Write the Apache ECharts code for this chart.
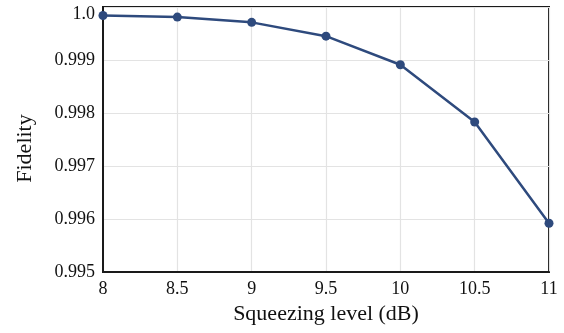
<!DOCTYPE html>
<html><head><meta charset="utf-8">
<script src="https://cdn.jsdelivr.net/npm/echarts@6/dist/echarts.min.js"></script>
<style>html,body{margin:0;padding:0;background:#fff}#c{width:564px;height:333px}</style>
</head><body><div id="c"></div>
<script>
const squeezing = [8, 8.5, 9, 9.5, 10, 10.5, 11];
const fidelity = [0.99984, 0.99981, 0.99971, 0.99945, 0.99891, 0.99783, 0.99592];
const xTicks = [8, 8.5, 9, 9.5, 10, 10.5, 11];
const yTicks = [0.995, 0.996, 0.997, 0.998, 0.999, 1.0];

const font = '"Liberation Serif", "Times New Roman", serif';
const chart = echarts.init(document.getElementById('c'));
chart.setOption({
  animation: false,
  grid: { left: 103, right: 15, top: 7, bottom: 61, show: true, borderColor: '#1a1a1a', borderWidth: 2, backgroundColor: 'transparent' },
  xAxis: {
    type: 'value', min: xTicks[0], max: xTicks[xTicks.length - 1], interval: 0.5,
    name: 'Squeezing level (dB)', nameLocation: 'middle', nameGap: 29,
    nameTextStyle: { fontFamily: font, fontSize: 22, color: '#111' },
    axisLine: { show: true, lineStyle: { color: '#1a1a1a', width: 2 } },
    axisTick: { show: false },
    axisLabel: { fontFamily: font, fontSize: 18, color: '#111', margin: 8 },
    splitLine: { show: true, lineStyle: { color: '#e3e3e3', width: 1.2 } }
  },
  yAxis: {
    type: 'value', min: yTicks[0], max: yTicks[yTicks.length - 1], interval: 0.001,
    name: 'Fidelity', nameLocation: 'middle', nameGap: 67,
    nameTextStyle: { fontFamily: font, fontSize: 22, color: '#111', padding: [0, 18, 0, 0] },
    axisLine: { show: true, lineStyle: { color: '#1a1a1a', width: 2 } },
    axisTick: { show: false },
    axisLabel: {
      fontFamily: font, fontSize: 18, color: '#111', margin: 8,
      formatter: v => Math.abs(v - 1) < 1e-9 ? '{t|1.0}' : v.toFixed(3),
      rich: { t: { fontFamily: font, fontSize: 18, color: '#111', padding: [14, 0, 0, 0] } }
    },
    splitLine: { show: true, lineStyle: { color: '#e3e3e3', width: 1.2 } }
  },
  series: [{
    type: 'line',
    data: squeezing.map((x, i) => [x, fidelity[i]]),
    clip: false,
    symbol: 'circle', symbolSize: 9,
    lineStyle: { color: '#2e4a7d', width: 2.5 },
    itemStyle: { color: '#2e4a7d' }
  }]
});
</script></body></html>
